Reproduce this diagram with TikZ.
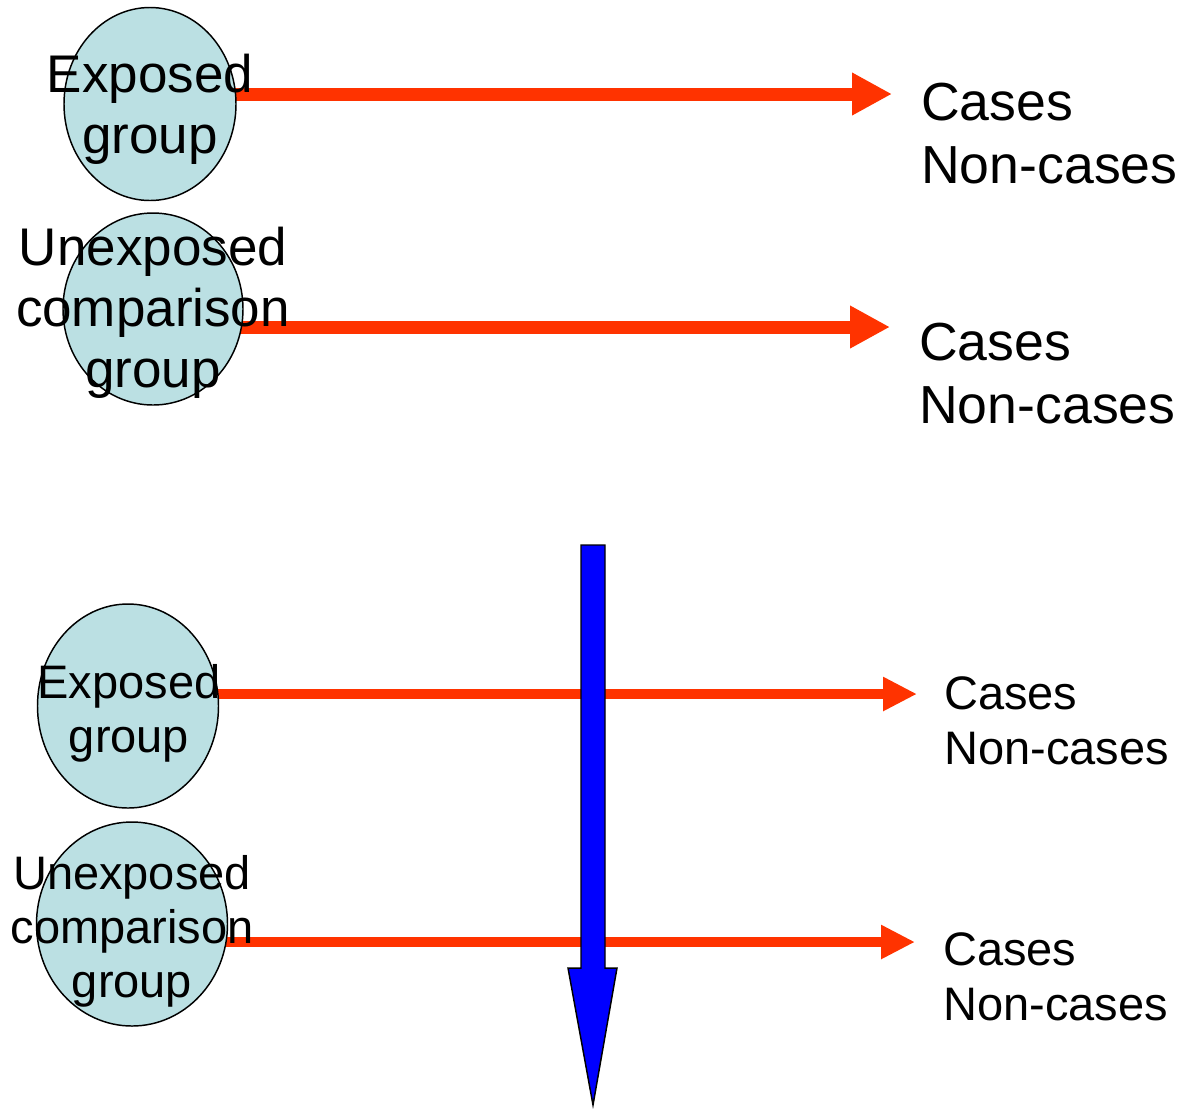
\documentclass[tikz,border=0pt]{standalone}
\usepackage{fontspec}
\setmainfont{Liberation Sans}
\usetikzlibrary{arrows.meta,shapes.geometric,backgrounds}
\definecolor{arrred}{RGB}{255,51,0}
\definecolor{cellblue}{RGB}{187,224,227}
\begin{document}
\begin{tikzpicture}[x=0.75pt,y=-0.75pt,
  grp/.style={ellipse, draw=black, line width=1.1pt, fill=cellblue, inner sep=0pt},
  biglbl/.style={font=\fontsize{39.75}{45.75}\selectfont, align=center, inner sep=0pt},
  smalllbl/.style={font=\fontsize{35.25}{40.5}\selectfont, align=center, inner sep=0pt},
  bigout/.style={font=\fontsize{40.2}{47.25}\selectfont, align=left, inner sep=0pt, anchor=west},
  smallout/.style={font=\fontsize{35.25}{41.25}\selectfont, align=left, inner sep=0pt, anchor=west},
  redbig/.style={draw=arrred, line width=9.75pt, -{Triangle[length=30pt,width=30pt]}},
  redsmall/.style={draw=arrred, line width=7.5pt, -{Triangle[length=25.5pt,width=24pt]}},
  bluearrow/.style={draw=black, fill=blue, line width=1.1pt, line join=miter}
]
\useasboundingbox (0,0) rectangle (1180,1108);

% groups (ellipses)
\node[grp, minimum width=129pt, minimum height=144.75pt] (e1) at (150,104) {};
\node[grp, minimum width=135pt, minimum height=144pt] (e2) at (153,309) {};
\node[grp, minimum width=135.75pt, minimum height=153pt] (e3) at (128,706) {};
\node[grp, minimum width=143.25pt, minimum height=153pt] (e4) at (132,924) {};

% arrow tips
\coordinate (t1) at (892,94);
\coordinate (t2) at (890,327);
\coordinate (t3) at (917,694);
\coordinate (t4) at (915,942);

% red arrows behind the ellipses
\begin{scope}[on background layer]
  \draw[redbig] (e1.center |- t1) -- (t1);
  \draw[redbig] (e2.center |- t2) -- (t2);
  \draw[redsmall] (e3.center |- t3) -- (t3);
  \draw[redsmall] (e4.center |- t4) -- (t4);
\end{scope}

% blue downward arrow
\draw[bluearrow] (581,545) -- (605,545) -- (605,968) -- (617,968) -- (593,1105) -- (568,968) -- (581,968) -- cycle;

% labels in the groups
\node[biglbl] (l1) at (150,109) {Exposed\\group};
\node[biglbl] (l2) at (153,313) {Unexposed\\comparison\\group};
\node[smalllbl] (l3) at (129,713) {Exposed\\group};
\node[smalllbl] (l4) at (132,931) {Unexposed\\comparison\\group};

% outcomes
\node[bigout] (o1) at (921,134) {Cases\\Non-cases};
\node[bigout] (o2) at (919,374) {Cases\\Non-cases};
\node[smallout] (o3) at (944,720.5) {Cases\\Non-cases};
\node[smallout] (o4) at (943,976.5) {Cases\\Non-cases};
\end{tikzpicture}
\end{document}
